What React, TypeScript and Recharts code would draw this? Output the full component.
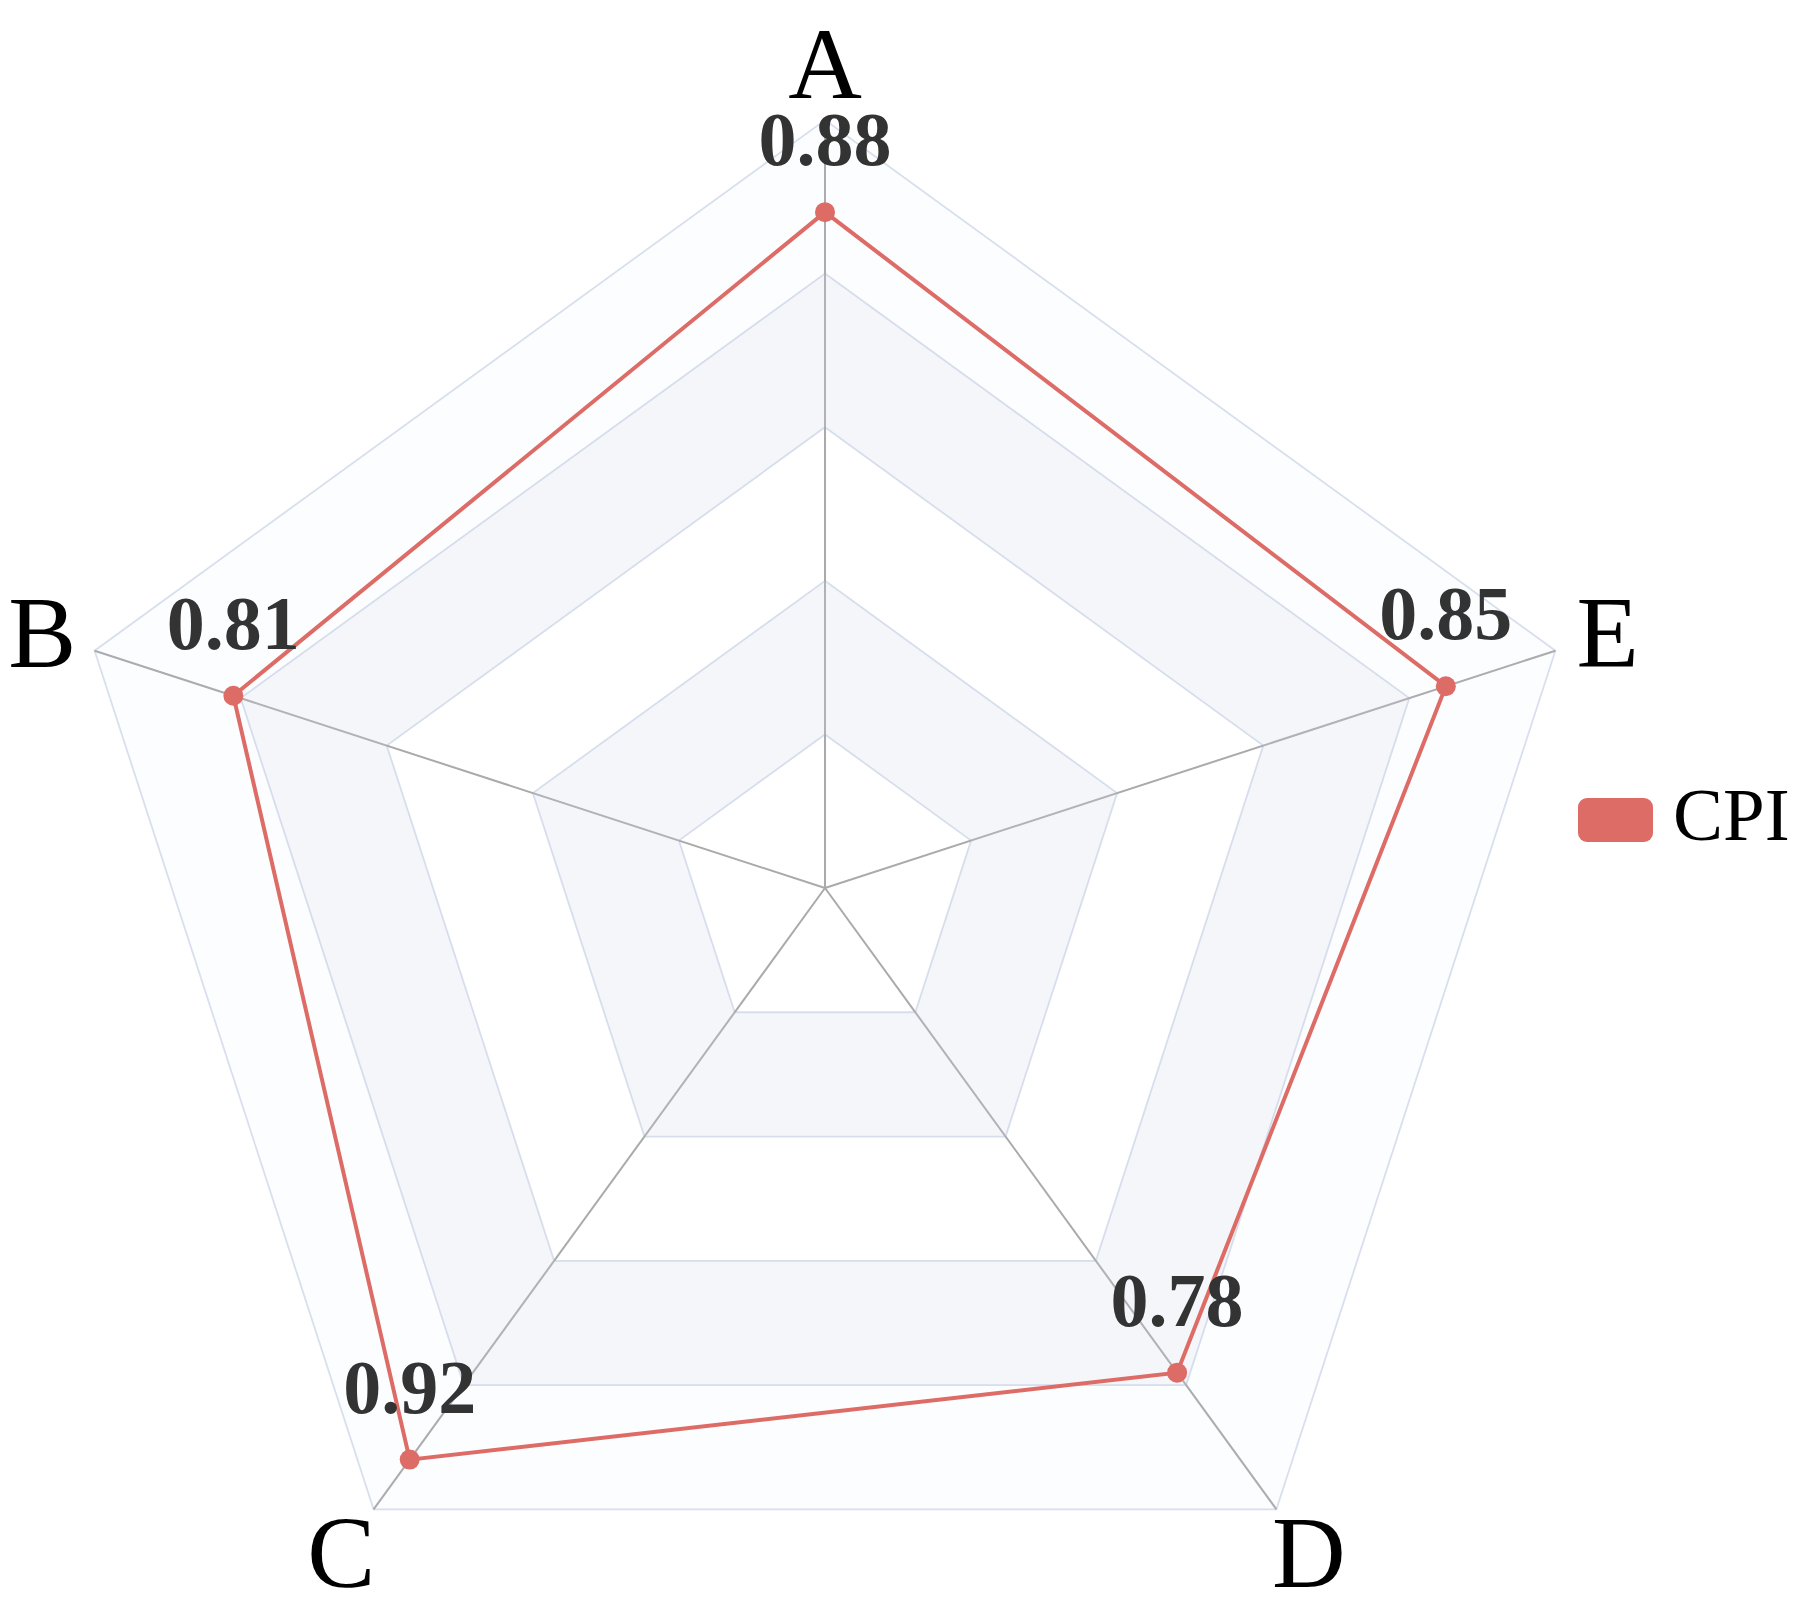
import React from "react";
import {
  RadarChart,
  Radar,
  PolarGrid,
  PolarAngleAxis,
  PolarRadiusAxis,
  Legend,
} from "recharts";

const categories = ["A", "B", "C", "D", "E"];
const cpiValues = [0.88, 0.81, 0.92, 0.78, 0.85];
const radiusTicks = [0, 0.2, 0.4, 0.6, 0.8, 1.0];
// shaded split areas between ring levels
const bandRanges = [
  [0.2, 0.4],
  [0.6, 0.8],
  [0.8, 1.0],
];
const bandOpacities = [0.2, 0.2, 0.05];

// axes run counter-clockwise from the top: A, B, C, D, E.
// recharts lays categories out clockwise, so feed them as A, E, D, C, B.
const drawOrder = [0, 4, 3, 2, 1];

const data = drawOrder.map((i) => {
  const row: any = { name: categories[i], CPI: cpiValues[i] };
  bandRanges.forEach((r, j) => {
    row[`band${j}`] = r;
  });
  return row;
});

const CX = 825;
const CY = 888;
const R = 768;
const FONT = "'Liberation Serif', 'Times New Roman', serif";
const RED = "#dd6b66";

const renderAxisTick = (props: any) => {
  const { x, y, payload } = props;
  const dx = x - CX;
  const dy = y - CY;
  const len = Math.hypot(dx, dy) || 1;
  const px = CX + (dx / len) * (R + 55);
  const py = CY + (dy / len) * (R + 55);
  return (
    <text
      x={px}
      y={py + 33}
      textAnchor="middle"
      fontSize={102}
      fontFamily={FONT}
      fill="#000"
    >
      {payload.value}
    </text>
  );
};

const renderDot = (props: any) => {
  const { cx, cy, index } = props;
  const v = typeof props.value === "number" ? props.value : props.payload?.value;
  return (
    <g key={`dot-${index}`}>
      <circle cx={cx} cy={cy} r={10} fill={RED} />
      <text
        x={cx}
        y={cy - 47}
        textAnchor="middle"
        fontSize={76}
        fontWeight="bold"
        fontFamily={FONT}
        fill="#333"
      >
        {Number(v).toFixed(2)}
      </text>
    </g>
  );
};

const renderLegend = () => (
  <svg width={225} height={70}>
    <rect x={0} y={8} width={75} height={44} rx={9} fill={RED} />
    <text x={95} y={50} fontSize={75} fontFamily={FONT} fill="#000">
      CPI
    </text>
  </svg>
);

const App: React.FC = () => {
  return (
    <div style={{ position: "absolute", left: 0, top: 0, background: "#fff" }}>
      <RadarChart
        width={1808}
        height={1601}
        data={data}
        cx={CX}
        cy={CY}
        outerRadius={R}
        margin={{ top: 0, right: 0, bottom: 0, left: 0 }}
      >
        {bandRanges.map((_, j) => (
          <Radar
            key={j}
            dataKey={`band${j}`}
            stroke="none"
            fill="#c9d3e8"
            fillOpacity={bandOpacities[j]}
            dot={false}
            legendType="none"
            isAnimationActive={false}
          />
        ))}
        <PolarGrid
          gridType="polygon"
          radialLines={false}
          polarRadius={radiusTicks.map((t) => t * R)}
          stroke="#d9e0ee"
          strokeWidth={1.8}
        />
        <PolarGrid
          gridType="polygon"
          polarRadius={[0]}
          stroke="#aaaaaa"
          strokeWidth={2}
        />
        <PolarRadiusAxis
          type="number"
          domain={[0, 1]}
          tickCount={6}
          tick={false}
          axisLine={false}
          angle={90}
        />
        <PolarAngleAxis
          dataKey="name"
          tick={renderAxisTick}
          tickLine={false}
          axisLine={false}
        />
        <Radar
          name="CPI"
          dataKey="CPI"
          stroke={RED}
          strokeWidth={4}
          fill="none"
          fillOpacity={0}
          dot={renderDot}
          isAnimationActive={false}
        />
        <Legend
          content={renderLegend}
          layout="vertical"
          align="right"
          verticalAlign="top"
          wrapperStyle={{ left: 1578, top: 790, right: "auto", width: 225 }}
        />
      </RadarChart>
    </div>
  );
};

export default App;
